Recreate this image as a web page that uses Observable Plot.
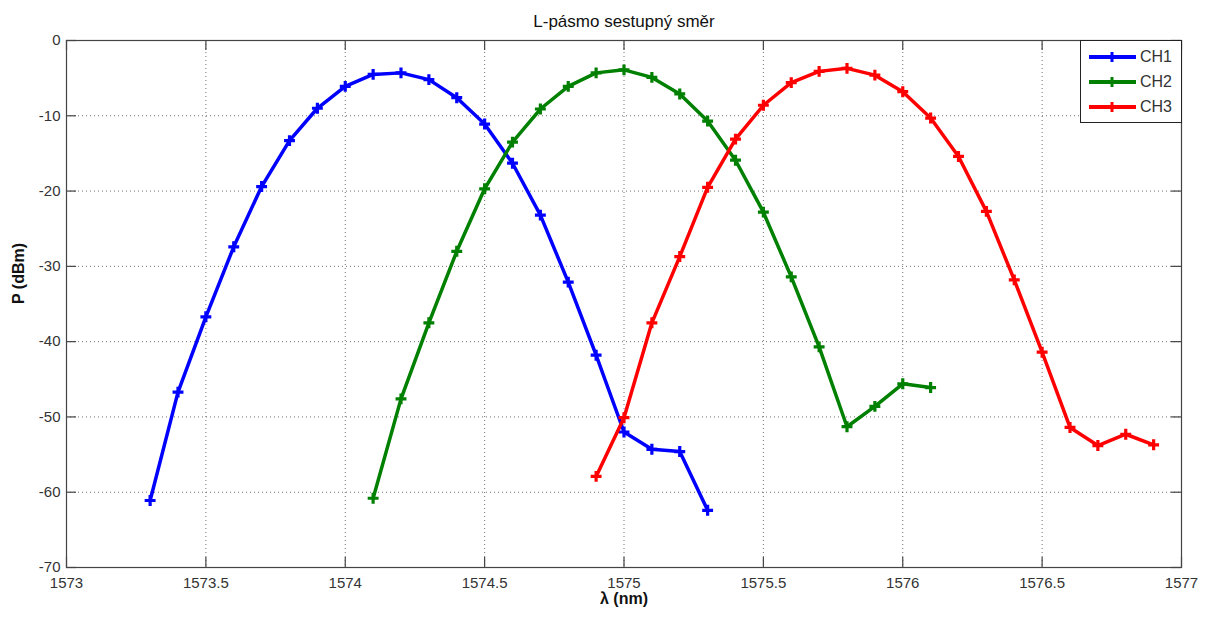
<!DOCTYPE html>
<html>
<head>
<meta charset="utf-8">
<script src="https://cdn.jsdelivr.net/npm/d3@7"></script>
<script src="https://cdn.jsdelivr.net/npm/@observablehq/plot@0.6"></script>
<style>
  html, body { margin: 0; padding: 0; background: #fff; }
  #wrap { position: relative; width: 1213px; height: 619px; font-family: "Liberation Sans", Arial, sans-serif; }
  #legend { position: absolute; left: 1080px; top: 40px; width: 100px; height: 81px; border: 1px solid #222; background: #fff; box-sizing: content-box; }
  .item { position: absolute; left: 0; height: 20px; display: flex; align-items: center; }
  .item span { font-size: 16px; color: #333; margin-left: 3px; }
</style>
</head>
<body>
<div id="wrap"></div>
<script>
const title = "L-pásmo sestupný směr";
const xLabel = "λ (nm)";
const yLabel = "P (dBm)";
const seriesNames = ["CH1", "CH2", "CH3"];
const seriesColors = ["#0000ff", "#008000", "#ff0000"];
const xTicks = [1573, 1573.5, 1574, 1574.5, 1575, 1575.5, 1576, 1576.5, 1577];
const yTicks = [-70, -60, -50, -40, -30, -20, -10, 0];

const ch1X = [1573.3, 1573.4, 1573.5, 1573.6, 1573.7, 1573.8, 1573.9, 1574.0, 1574.1, 1574.2, 1574.3, 1574.4, 1574.5, 1574.6, 1574.7, 1574.8, 1574.9, 1575.0, 1575.1, 1575.2, 1575.3];
const ch1Y = [-61.1, -46.7, -36.7, -27.4, -19.4, -13.3, -9.0, -6.1, -4.5, -4.3, -5.2, -7.6, -11.1, -16.3, -23.2, -32.1, -41.8, -52.0, -54.3, -54.6, -62.4];

const ch2X = [1574.1, 1574.2, 1574.3, 1574.4, 1574.5, 1574.6, 1574.7, 1574.8, 1574.9, 1575.0, 1575.1, 1575.2, 1575.3, 1575.4, 1575.5, 1575.6, 1575.7, 1575.8, 1575.9, 1576.0, 1576.1];
const ch2Y = [-60.8, -47.6, -37.5, -28.0, -19.7, -13.5, -9.1, -6.1, -4.3, -3.9, -4.9, -7.1, -10.7, -15.9, -22.8, -31.4, -40.7, -51.3, -48.6, -45.6, -46.1];

const ch3X = [1574.9, 1575.0, 1575.1, 1575.2, 1575.3, 1575.4, 1575.5, 1575.6, 1575.7, 1575.8, 1575.9, 1576.0, 1576.1, 1576.2, 1576.3, 1576.4, 1576.5, 1576.6, 1576.7, 1576.8, 1576.9];
const ch3Y = [-57.9, -50.1, -37.5, -28.7, -19.5, -13.1, -8.6, -5.6, -4.1, -3.7, -4.6, -6.8, -10.3, -15.4, -22.7, -31.8, -41.4, -51.4, -53.8, -52.3, -53.7];

const seriesX = [ch1X, ch2X, ch3X];
const seriesY = [ch1Y, ch2Y, ch3Y];

const data = [];
seriesNames.forEach((name, i) => {
  seriesX[i].forEach((x, j) => data.push({series: name, x, y: seriesY[i][j]}));
});

const W = 1213, H = 619;
const mL = 66, mR = 32, mT = 40, mB = 52;
const plotH = H - mT - mB;
const plotW = W - mL - mR;
const tickLen = 10;
const frameColor = "#444";
const gridStyle = {stroke: "#333", strokeOpacity: 0.7, strokeDasharray: "1,3", strokeWidth: 1};

const marks = [];
seriesNames.forEach((name, i) => {
  const d = data.filter(r => r.series === name);
  marks.push(Plot.line(d, {x: "x", y: "y", stroke: seriesColors[i], strokeWidth: 3.5, strokeLinejoin: "round"}));
  marks.push(Plot.dot(d, {x: "x", y: "y", stroke: seriesColors[i], symbol: "plus", r: 3.6, strokeWidth: 3.2}));
});

const chart = Plot.plot({
  width: W, height: H,
  marginLeft: mL, marginRight: mR, marginTop: mT, marginBottom: mB,
  style: {fontFamily: "\"Liberation Sans\", Arial, sans-serif", background: "#fff"},
  x: {domain: [1573, 1577]},
  y: {domain: [-70, 0]},
  marks: [
    Plot.ruleX(xTicks.slice(1, -1), gridStyle),
    Plot.ruleY(yTicks.slice(1, -1), gridStyle),
    ...marks,
    Plot.frame({stroke: frameColor, strokeWidth: 1.2}),
    Plot.ruleX(xTicks, {stroke: frameColor, strokeWidth: 1.2, insetTop: plotH - tickLen}),
    Plot.ruleX(xTicks, {stroke: frameColor, strokeWidth: 1.2, insetBottom: plotH - tickLen}),
    Plot.ruleY(yTicks, {stroke: frameColor, strokeWidth: 1.2, insetRight: plotW - tickLen}),
    Plot.ruleY(yTicks, {stroke: frameColor, strokeWidth: 1.2, insetLeft: plotW - tickLen}),
    Plot.axisX(xTicks, {tickSize: 0, tickPadding: 10, tickFormat: d => String(d), label: null, fontSize: 15, color: "#333"}),
    Plot.axisY(yTicks, {tickSize: 0, tickPadding: 6, tickFormat: d => String(d), label: null, fontSize: 15, color: "#333"}),
    Plot.text([title], {frameAnchor: "top", lineAnchor: "middle", dy: -19, fontSize: 17, fill: "#111", letterSpacing: 1.3}),
    Plot.text([xLabel], {frameAnchor: "bottom", lineAnchor: "middle", dy: 31, fontSize: 16, fontWeight: "bold", fill: "#111"}),
    Plot.text([yLabel], {frameAnchor: "left", lineAnchor: "middle", dx: -48, rotate: -90, fontSize: 16, fontWeight: "bold", fill: "#111"})
  ]
});

const wrap = document.getElementById("wrap");
wrap.appendChild(chart);

const legend = document.createElement("div");
legend.id = "legend";
seriesNames.forEach((name, i) => {
  const item = document.createElement("div");
  item.className = "item";
  item.style.top = (6 + i * 25) + "px";
  item.innerHTML = `<svg width="56" height="20"><line x1="8" x2="55" y1="10" y2="10" stroke="${seriesColors[i]}" stroke-width="4"/><line x1="31" x2="31" y1="5" y2="15" stroke="${seriesColors[i]}" stroke-width="3"/></svg><span>${name}</span>`;
  legend.appendChild(item);
});
wrap.appendChild(legend);
</script>
</body>
</html>
